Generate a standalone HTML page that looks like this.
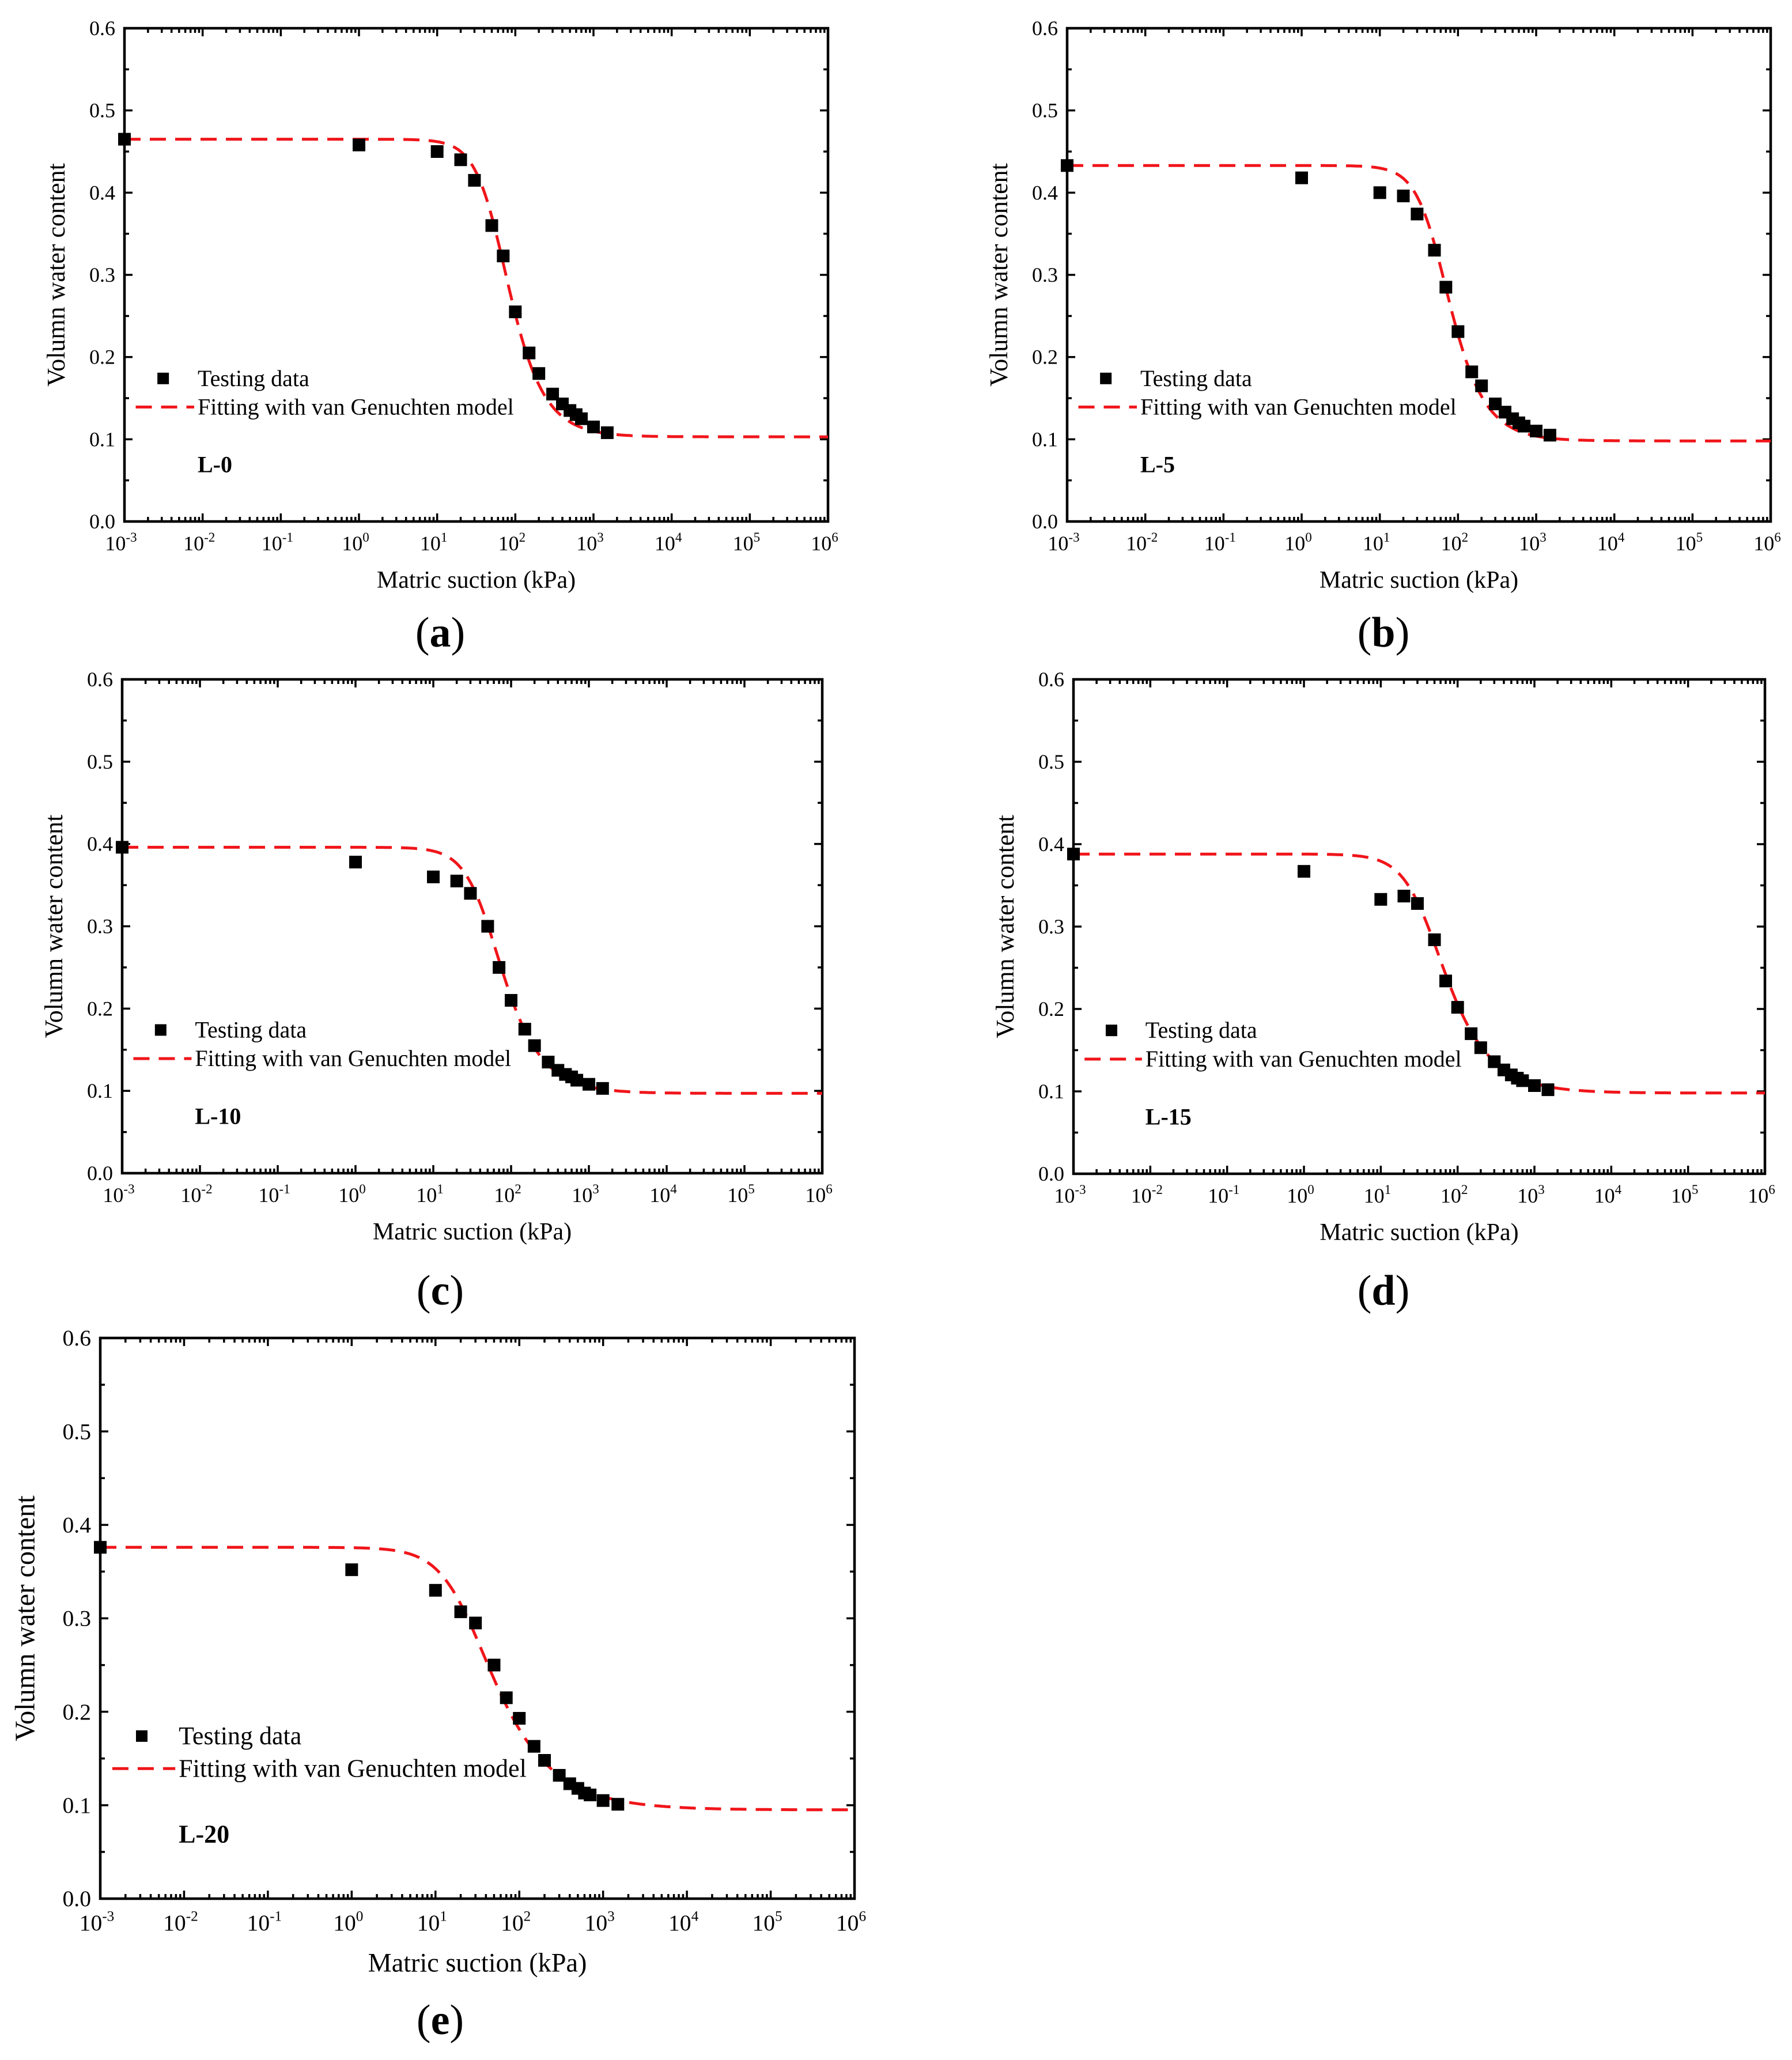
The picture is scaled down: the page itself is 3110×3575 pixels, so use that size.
<!DOCTYPE html>
<html><head><meta charset="utf-8"><style>
html,body{margin:0;padding:0;background:#fff}
svg{display:block}
text{font-family:"Liberation Serif",serif;fill:#000}
</style></head><body>
<svg id="fig" width="3110" height="3575" viewBox="0 0 3110 3575" xmlns="http://www.w3.org/2000/svg"></svg>
<script>
// data for each panel
const suction = [0.001, 1, 10, 20, 30, 50, 70, 100, 150, 200, 300, 400, 500, 600, 700, 1000, 1500];
const thetaA = [0.465,0.458,0.450,0.440,0.415,0.360,0.323,0.255,0.205,0.180,0.155,0.143,0.135,0.130,0.125,0.115,0.108];
const thetaB = [0.433,0.418,0.400,0.396,0.374,0.330,0.285,0.231,0.182,0.165,0.143,0.133,0.125,0.120,0.116,0.110,0.105];
const thetaC = [0.396,0.378,0.360,0.355,0.340,0.300,0.250,0.210,0.175,0.155,0.135,0.125,0.120,0.117,0.113,0.108,0.103];
const thetaD = [0.388,0.367,0.333,0.337,0.328,0.284,0.234,0.202,0.170,0.153,0.136,0.126,0.120,0.116,0.113,0.107,0.102];
const thetaE = [0.376,0.352,0.330,0.307,0.295,0.250,0.215,0.193,0.163,0.148,0.132,0.123,0.118,0.113,0.111,0.105,0.101];
// van Genuchten fit parameters [theta_s, theta_r, alpha, n]
const fitA = [0.465,0.103,0.017,2.4];
const fitB = [0.433,0.098,0.018,2.4];
const fitC = [0.396,0.097,0.020,2.2];
const fitD = [0.388,0.098,0.025,2.0];
const fitE = [0.376,0.095,0.042,1.8];
const xTickExp = [-3,-2,-1,0,1,2,3,4,5,6];
const yTicks = [0.0,0.1,0.2,0.3,0.4,0.5,0.6];
const panelNames = ["L-0","L-5","L-10","L-15","L-20"];
const panelLetters = ["a","b","c","d","e"];

const NS="http://www.w3.org/2000/svg";
const svg=document.getElementById('fig');
function mk(tag,attrs,parent){const e=document.createElementNS(NS,tag);for(const k in attrs)e.setAttribute(k,attrs[k]);(parent||svg).appendChild(e);return e;}

const layouts=[
 {x0:216,x1:1437,y0:49,y1:905,fs:1,lx:764,ly:1122},
 {x0:1852,x1:3073,y0:49,y1:905,fs:1,lx:2401,ly:1122},
 {x0:212,x1:1427,y0:1179,y1:2036,fs:1,lx:764,ly:2264},
 {x0:1863,x1:3063,y0:1179,y1:2037,fs:1,lx:2401,ly:2264},
 {x0:174,x1:1483,y0:2322,y1:3295,fs:1.1,lx:764,ly:3530}
];
const series=[thetaA,thetaB,thetaC,thetaD,thetaE];
const fits=[fitA,fitB,fitC,fitD,fitE];

layouts.forEach((L,i)=>{
  const g=mk('g',{});
  
  
  const W=L.x1-L.x0,H=L.y1-L.y0,fs=L.fs;
  const xs=v=>L.x0+(Math.log10(v)+3)/9*W;
  const ys=v=>L.y1-v/0.6*H;
  let d='';
  for(let e=-3;e<=6;e++){
    const x=xs(Math.pow(10,e));
    d+=`M${x},${L.y1}v-14M${x},${L.y0}v14`;
    if(e<6)for(let k=2;k<=9;k++){const xm=xs(k*Math.pow(10,e));d+=`M${xm},${L.y1}v-8M${xm},${L.y0}v8`;}
  }
  for(let j=0;j<=12;j++){const y=ys(j*0.05);const len=j%2?8:14;d+=`M${L.x0},${y}h${len}M${L.x1},${y}h-${len}`;}
  const ticks=mk('path',{d:d,stroke:'#000','stroke-width':3.5,fill:'none'},g);
  
  
  const frame=mk('rect',{x:L.x0,y:L.y0,width:W,height:H,fill:'none',stroke:'#000','stroke-width':4.5},g);
  
  
  xTickExp.forEach(e=>{
    const t=mk('text',{x:xs(Math.pow(10,e))-6,y:L.y1+50*fs,'font-size':36*fs,'text-anchor':'middle'},g);
    
    
    t.appendChild(document.createTextNode('10'));
    const s=mk('tspan',{dy:-15*fs,'font-size':23*fs},t);s.textContent=String(e);
  });
  yTicks.forEach(v=>{
    const t=mk('text',{x:L.x0-16,y:ys(v)+12*fs,'font-size':36*fs,'text-anchor':'end'},g);
    
    
    t.textContent=v.toFixed(1);
  });
  const xt=mk('text',{x:(L.x0+L.x1)/2,y:L.y1+115*fs,'font-size':42*fs,'text-anchor':'middle'},g);
  
  
  xt.textContent='Matric suction (kPa)';
  const yx=L.x0-104*fs, ymid=(L.y0+L.y1)/2;
  const yt=mk('text',{x:yx,y:ymid,'font-size':44*fs,'text-anchor':'middle',transform:`rotate(-90 ${yx} ${ymid})`},g);
  
  
  yt.textContent='Volumn water content';
  const [ts,tr,a,n]=fits[i];const m=1-1/n;
  let p='';
  for(let k=0;k<=400;k++){const lx=-3+9*k/400;const h=Math.pow(10,lx);
    const th=tr+(ts-tr)*Math.pow(1+Math.pow(a*h,n),-m);
    p+=(k?'L':'M')+xs(h).toFixed(1)+','+ys(th).toFixed(1);}
  const curve=mk('path',{d:p,fill:'none',stroke:'#f0151a','stroke-width':5,'stroke-dasharray':'28,16'},g);
  
  
  series[i].forEach((v,k)=>{
    const r=mk('rect',{x:xs(suction[k])-11,y:ys(v)-11,width:22,height:22,fill:'#000'},g);
    
    
  });
  const lgx=L.x0+0.055*W, lgy=L.y0+0.71*H;
  const lm=mk('rect',{x:lgx-10,y:lgy-10,width:20,height:20,fill:'#000'},g);
  
  
  const tx=L.x0+0.104*W;
  const lt1=mk('text',{x:tx,y:lgy+13*fs,'font-size':40*fs},g);
  
  
  lt1.textContent='Testing data';
  const ly2=L.y0+0.768*H;
  const ll=mk('path',{d:`M${L.x0+0.016*W},${ly2}H${tx-6}`,stroke:'#f0151a','stroke-width':5,'stroke-dasharray':'28,16'},g);
  
  
  const lt2=mk('text',{x:tx,y:ly2+13*fs,'font-size':40*fs},g);
  
  
  lt2.textContent='Fitting with van Genuchten model';
  const pn=mk('text',{x:tx,y:L.y0+0.885*H+13*fs,'font-size':40*fs,'font-weight':'bold'},g);
  
  
  pn.textContent=panelNames[i];
  const pl=mk('text',{x:L.lx,y:L.ly,'font-size':74,'text-anchor':'middle'},g);
  
  
  pl.appendChild(document.createTextNode('('));
  const b=mk('tspan',{'font-weight':'bold'},pl);b.textContent=panelLetters[i];
  pl.appendChild(document.createTextNode(')'));
});
</script>
</body></html>
